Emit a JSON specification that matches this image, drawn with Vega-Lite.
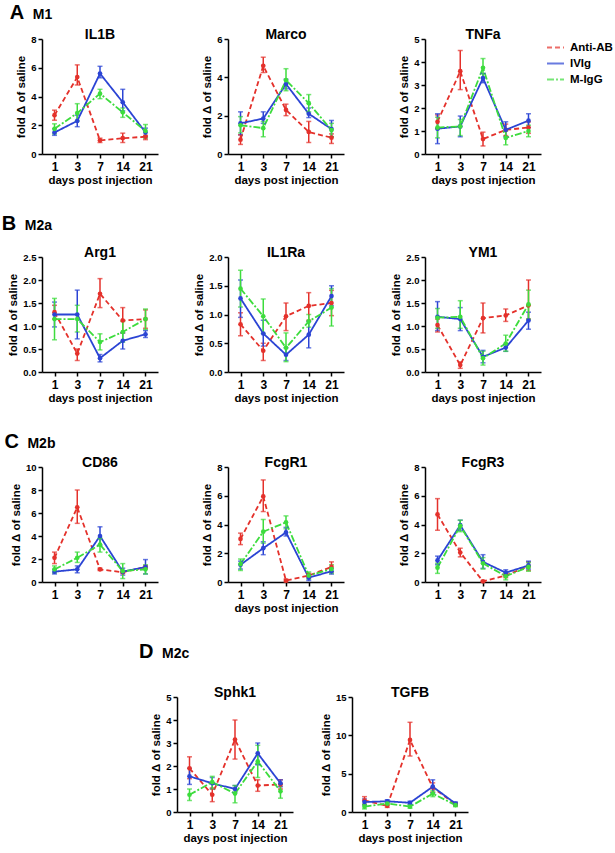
{
"$schema":"https://vega.github.io/schema/vega-lite/v6.json",
"padding":{"left":1,"top":3,"right":2,"bottom":2},
"background":"white",
"datasets":{"d":[
{"g":"IL1B","grp":"Anti-AB","day":1,"m":2.7,"lo":2.35,"hi":3.05},{"g":"IL1B","grp":"Anti-AB","day":3,"m":5.35,"lo":4.8,"hi":6.2},{"g":"IL1B","grp":"Anti-AB","day":7,"m":0.95,"lo":0.8,"hi":1.1},{"g":"IL1B","grp":"Anti-AB","day":14,"m":1.1,"lo":0.8,"hi":1.45},{"g":"IL1B","grp":"Anti-AB","day":21,"m":1.2,"lo":1.0,"hi":1.3},
{"g":"IL1B","grp":"IVIg","day":1,"m":1.5,"lo":1.3,"hi":1.75},{"g":"IL1B","grp":"IVIg","day":3,"m":2.3,"lo":1.9,"hi":2.7},{"g":"IL1B","grp":"IVIg","day":7,"m":5.6,"lo":5.3,"hi":6.1},{"g":"IL1B","grp":"IVIg","day":14,"m":3.6,"lo":3.0,"hi":4.5},{"g":"IL1B","grp":"IVIg","day":21,"m":1.5,"lo":1.2,"hi":1.8},
{"g":"IL1B","grp":"M-IgG","day":1,"m":1.75,"lo":1.4,"hi":2.1},{"g":"IL1B","grp":"M-IgG","day":3,"m":2.85,"lo":2.3,"hi":3.5},{"g":"IL1B","grp":"M-IgG","day":7,"m":4.2,"lo":3.85,"hi":4.5},{"g":"IL1B","grp":"M-IgG","day":14,"m":2.9,"lo":2.55,"hi":3.2},{"g":"IL1B","grp":"M-IgG","day":21,"m":1.6,"lo":1.1,"hi":2.05},
{"g":"Marco","grp":"Anti-AB","day":1,"m":0.75,"lo":0.5,"hi":1.0},{"g":"Marco","grp":"Anti-AB","day":3,"m":4.6,"lo":4.25,"hi":5.05},{"g":"Marco","grp":"Anti-AB","day":7,"m":2.3,"lo":2.0,"hi":2.6},{"g":"Marco","grp":"Anti-AB","day":14,"m":1.15,"lo":0.6,"hi":1.7},{"g":"Marco","grp":"Anti-AB","day":21,"m":0.85,"lo":0.55,"hi":1.05},
{"g":"Marco","grp":"IVIg","day":1,"m":1.6,"lo":1.0,"hi":2.2},{"g":"Marco","grp":"IVIg","day":3,"m":1.85,"lo":1.6,"hi":2.2},{"g":"Marco","grp":"IVIg","day":7,"m":3.65,"lo":3.4,"hi":3.9},{"g":"Marco","grp":"IVIg","day":14,"m":2.1,"lo":1.9,"hi":2.4},{"g":"Marco","grp":"IVIg","day":21,"m":1.3,"lo":0.9,"hi":1.75},
{"g":"Marco","grp":"M-IgG","day":1,"m":1.5,"lo":1.1,"hi":1.95},{"g":"Marco","grp":"M-IgG","day":3,"m":1.35,"lo":0.9,"hi":1.7},{"g":"Marco","grp":"M-IgG","day":7,"m":3.85,"lo":3.3,"hi":4.45},{"g":"Marco","grp":"M-IgG","day":14,"m":2.65,"lo":2.2,"hi":3.1},{"g":"Marco","grp":"M-IgG","day":21,"m":1.25,"lo":0.9,"hi":1.6},
{"g":"TNFa","grp":"Anti-AB","day":1,"m":1.4,"lo":1.1,"hi":1.7},{"g":"TNFa","grp":"Anti-AB","day":3,"m":3.6,"lo":2.8,"hi":4.5},{"g":"TNFa","grp":"Anti-AB","day":7,"m":0.65,"lo":0.35,"hi":0.95},{"g":"TNFa","grp":"Anti-AB","day":14,"m":1.05,"lo":0.8,"hi":1.3},{"g":"TNFa","grp":"Anti-AB","day":21,"m":1.15,"lo":0.9,"hi":1.4},
{"g":"TNFa","grp":"IVIg","day":1,"m":1.1,"lo":0.45,"hi":1.75},{"g":"TNFa","grp":"IVIg","day":3,"m":1.2,"lo":0.75,"hi":1.65},{"g":"TNFa","grp":"IVIg","day":7,"m":3.3,"lo":3.1,"hi":3.5},{"g":"TNFa","grp":"IVIg","day":14,"m":1.05,"lo":0.75,"hi":1.4},{"g":"TNFa","grp":"IVIg","day":21,"m":1.45,"lo":1.15,"hi":1.75},
{"g":"TNFa","grp":"M-IgG","day":1,"m":1.15,"lo":0.7,"hi":1.6},{"g":"TNFa","grp":"M-IgG","day":3,"m":1.2,"lo":0.8,"hi":1.5},{"g":"TNFa","grp":"M-IgG","day":7,"m":3.75,"lo":3.3,"hi":4.15},{"g":"TNFa","grp":"M-IgG","day":14,"m":0.7,"lo":0.4,"hi":1.0},{"g":"TNFa","grp":"M-IgG","day":21,"m":1.0,"lo":0.75,"hi":1.25},
{"g":"Arg1","grp":"Anti-AB","day":1,"m":1.3,"lo":1.15,"hi":1.45},{"g":"Arg1","grp":"Anti-AB","day":3,"m":0.4,"lo":0.25,"hi":0.5},{"g":"Arg1","grp":"Anti-AB","day":7,"m":1.7,"lo":1.4,"hi":2.03},{"g":"Arg1","grp":"Anti-AB","day":14,"m":1.12,"lo":0.85,"hi":1.4},{"g":"Arg1","grp":"Anti-AB","day":21,"m":1.15,"lo":0.95,"hi":1.35},
{"g":"Arg1","grp":"IVIg","day":1,"m":1.25,"lo":0.98,"hi":1.52},{"g":"Arg1","grp":"IVIg","day":3,"m":1.25,"lo":0.72,"hi":1.78},{"g":"Arg1","grp":"IVIg","day":7,"m":0.3,"lo":0.22,"hi":0.38},{"g":"Arg1","grp":"IVIg","day":14,"m":0.68,"lo":0.5,"hi":0.85},{"g":"Arg1","grp":"IVIg","day":21,"m":0.82,"lo":0.75,"hi":0.9},
{"g":"Arg1","grp":"M-IgG","day":1,"m":1.15,"lo":0.7,"hi":1.6},{"g":"Arg1","grp":"M-IgG","day":3,"m":1.15,"lo":0.87,"hi":1.45},{"g":"Arg1","grp":"M-IgG","day":7,"m":0.65,"lo":0.48,"hi":0.83},{"g":"Arg1","grp":"M-IgG","day":14,"m":0.87,"lo":0.65,"hi":1.1},{"g":"Arg1","grp":"M-IgG","day":21,"m":1.15,"lo":0.92,"hi":1.37},
{"g":"IL1Ra","grp":"Anti-AB","day":1,"m":0.83,"lo":0.63,"hi":1.03},{"g":"IL1Ra","grp":"Anti-AB","day":3,"m":0.37,"lo":0.2,"hi":0.5},{"g":"IL1Ra","grp":"Anti-AB","day":7,"m":0.97,"lo":0.72,"hi":1.2},{"g":"IL1Ra","grp":"Anti-AB","day":14,"m":1.15,"lo":0.9,"hi":1.38},{"g":"IL1Ra","grp":"Anti-AB","day":21,"m":1.2,"lo":0.98,"hi":1.42},
{"g":"IL1Ra","grp":"IVIg","day":1,"m":1.28,"lo":0.95,"hi":1.6},{"g":"IL1Ra","grp":"IVIg","day":3,"m":0.67,"lo":0.45,"hi":0.9},{"g":"IL1Ra","grp":"IVIg","day":7,"m":0.3,"lo":0.2,"hi":0.42},{"g":"IL1Ra","grp":"IVIg","day":14,"m":0.65,"lo":0.42,"hi":0.88},{"g":"IL1Ra","grp":"IVIg","day":21,"m":1.32,"lo":1.15,"hi":1.5},
{"g":"IL1Ra","grp":"M-IgG","day":1,"m":1.45,"lo":1.13,"hi":1.77},{"g":"IL1Ra","grp":"M-IgG","day":3,"m":0.97,"lo":0.67,"hi":1.27},{"g":"IL1Ra","grp":"M-IgG","day":7,"m":0.42,"lo":0.18,"hi":0.68},{"g":"IL1Ra","grp":"M-IgG","day":14,"m":0.88,"lo":0.78,"hi":1.0},{"g":"IL1Ra","grp":"M-IgG","day":21,"m":1.12,"lo":0.8,"hi":1.45},
{"g":"YM1","grp":"Anti-AB","day":1,"m":1.02,"lo":0.87,"hi":1.15},{"g":"YM1","grp":"Anti-AB","day":3,"m":0.15,"lo":0.08,"hi":0.22},{"g":"YM1","grp":"Anti-AB","day":7,"m":1.17,"lo":0.85,"hi":1.5},{"g":"YM1","grp":"Anti-AB","day":14,"m":1.23,"lo":1.1,"hi":1.37},{"g":"YM1","grp":"Anti-AB","day":21,"m":1.45,"lo":1.15,"hi":2.0},
{"g":"YM1","grp":"IVIg","day":1,"m":1.2,"lo":0.9,"hi":1.53},{"g":"YM1","grp":"IVIg","day":3,"m":1.15,"lo":0.9,"hi":1.4},{"g":"YM1","grp":"IVIg","day":7,"m":0.33,"lo":0.2,"hi":0.47},{"g":"YM1","grp":"IVIg","day":14,"m":0.53,"lo":0.45,"hi":0.6},{"g":"YM1","grp":"IVIg","day":21,"m":1.12,"lo":0.93,"hi":1.3},
{"g":"YM1","grp":"M-IgG","day":1,"m":1.18,"lo":0.95,"hi":1.38},{"g":"YM1","grp":"M-IgG","day":3,"m":1.2,"lo":0.95,"hi":1.55},{"g":"YM1","grp":"M-IgG","day":7,"m":0.3,"lo":0.15,"hi":0.45},{"g":"YM1","grp":"M-IgG","day":14,"m":0.62,"lo":0.45,"hi":0.8},{"g":"YM1","grp":"M-IgG","day":21,"m":1.47,"lo":1.15,"hi":1.78},
{"g":"CD86","grp":"Anti-AB","day":1,"m":2.1,"lo":1.6,"hi":2.6},{"g":"CD86","grp":"Anti-AB","day":3,"m":6.5,"lo":5.1,"hi":8.0},{"g":"CD86","grp":"Anti-AB","day":7,"m":1.1,"lo":1.0,"hi":1.2},{"g":"CD86","grp":"Anti-AB","day":14,"m":0.85,"lo":0.75,"hi":0.95},{"g":"CD86","grp":"Anti-AB","day":21,"m":1.3,"lo":1.2,"hi":1.4},
{"g":"CD86","grp":"IVIg","day":1,"m":0.9,"lo":0.7,"hi":1.1},{"g":"CD86","grp":"IVIg","day":3,"m":1.1,"lo":0.8,"hi":1.4},{"g":"CD86","grp":"IVIg","day":7,"m":4.0,"lo":3.2,"hi":4.8},{"g":"CD86","grp":"IVIg","day":14,"m":0.9,"lo":0.6,"hi":1.2},{"g":"CD86","grp":"IVIg","day":21,"m":1.3,"lo":0.7,"hi":1.95},
{"g":"CD86","grp":"M-IgG","day":1,"m":1.1,"lo":0.8,"hi":1.4},{"g":"CD86","grp":"M-IgG","day":3,"m":2.1,"lo":1.7,"hi":2.6},{"g":"CD86","grp":"M-IgG","day":7,"m":3.25,"lo":2.6,"hi":3.8},{"g":"CD86","grp":"M-IgG","day":14,"m":0.95,"lo":0.3,"hi":1.6},{"g":"CD86","grp":"M-IgG","day":21,"m":1.1,"lo":0.7,"hi":1.5},
{"g":"FcgR1","grp":"Anti-AB","day":1,"m":3.0,"lo":2.6,"hi":3.4},{"g":"FcgR1","grp":"Anti-AB","day":3,"m":5.95,"lo":4.9,"hi":7.1},{"g":"FcgR1","grp":"Anti-AB","day":7,"m":0.1,"lo":0.0,"hi":0.2},{"g":"FcgR1","grp":"Anti-AB","day":14,"m":0.45,"lo":0.3,"hi":0.6},{"g":"FcgR1","grp":"Anti-AB","day":21,"m":1.05,"lo":0.7,"hi":1.4},
{"g":"FcgR1","grp":"IVIg","day":1,"m":1.2,"lo":0.9,"hi":1.45},{"g":"FcgR1","grp":"IVIg","day":3,"m":2.35,"lo":1.9,"hi":2.8},{"g":"FcgR1","grp":"IVIg","day":7,"m":3.45,"lo":3.2,"hi":3.8},{"g":"FcgR1","grp":"IVIg","day":14,"m":0.3,"lo":0.1,"hi":0.5},{"g":"FcgR1","grp":"IVIg","day":21,"m":0.75,"lo":0.55,"hi":0.95},
{"g":"FcgR1","grp":"M-IgG","day":1,"m":1.25,"lo":0.8,"hi":1.6},{"g":"FcgR1","grp":"M-IgG","day":3,"m":3.5,"lo":2.7,"hi":4.35},{"g":"FcgR1","grp":"M-IgG","day":7,"m":4.15,"lo":3.7,"hi":4.6},{"g":"FcgR1","grp":"M-IgG","day":14,"m":0.45,"lo":0.2,"hi":0.7},{"g":"FcgR1","grp":"M-IgG","day":21,"m":0.9,"lo":0.6,"hi":1.2},
{"g":"FcgR3","grp":"Anti-AB","day":1,"m":4.7,"lo":3.6,"hi":5.8},{"g":"FcgR3","grp":"Anti-AB","day":3,"m":2.05,"lo":1.75,"hi":2.35},{"g":"FcgR3","grp":"Anti-AB","day":7,"m":0.05,"lo":0.0,"hi":0.1},{"g":"FcgR3","grp":"Anti-AB","day":14,"m":0.45,"lo":0.3,"hi":0.6},{"g":"FcgR3","grp":"Anti-AB","day":21,"m":1.1,"lo":0.8,"hi":1.4},
{"g":"FcgR3","grp":"IVIg","day":1,"m":1.5,"lo":1.2,"hi":1.8},{"g":"FcgR3","grp":"IVIg","day":3,"m":3.95,"lo":3.6,"hi":4.3},{"g":"FcgR3","grp":"IVIg","day":7,"m":1.4,"lo":0.95,"hi":1.9},{"g":"FcgR3","grp":"IVIg","day":14,"m":0.65,"lo":0.45,"hi":0.85},{"g":"FcgR3","grp":"IVIg","day":21,"m":1.15,"lo":0.9,"hi":1.45},
{"g":"FcgR3","grp":"M-IgG","day":1,"m":1.0,"lo":0.6,"hi":1.3},{"g":"FcgR3","grp":"M-IgG","day":3,"m":3.9,"lo":3.5,"hi":4.3},{"g":"FcgR3","grp":"M-IgG","day":7,"m":1.3,"lo":0.9,"hi":1.7},{"g":"FcgR3","grp":"M-IgG","day":14,"m":0.4,"lo":0.15,"hi":0.65},{"g":"FcgR3","grp":"M-IgG","day":21,"m":1.05,"lo":0.75,"hi":1.35},
{"g":"Sphk1","grp":"Anti-AB","day":1,"m":1.9,"lo":1.45,"hi":2.4},{"g":"Sphk1","grp":"Anti-AB","day":3,"m":0.75,"lo":0.45,"hi":1.05},{"g":"Sphk1","grp":"Anti-AB","day":7,"m":3.15,"lo":2.3,"hi":4.0},{"g":"Sphk1","grp":"Anti-AB","day":14,"m":1.15,"lo":0.9,"hi":1.4},{"g":"Sphk1","grp":"Anti-AB","day":21,"m":1.2,"lo":1.0,"hi":1.4},
{"g":"Sphk1","grp":"IVIg","day":1,"m":1.55,"lo":1.2,"hi":1.9},{"g":"Sphk1","grp":"IVIg","day":3,"m":1.25,"lo":1.0,"hi":1.5},{"g":"Sphk1","grp":"IVIg","day":7,"m":1.0,"lo":0.85,"hi":1.15},{"g":"Sphk1","grp":"IVIg","day":14,"m":2.55,"lo":2.05,"hi":3.0},{"g":"Sphk1","grp":"IVIg","day":21,"m":1.25,"lo":1.1,"hi":1.4},
{"g":"Sphk1","grp":"M-IgG","day":1,"m":0.75,"lo":0.5,"hi":1.0},{"g":"Sphk1","grp":"M-IgG","day":3,"m":1.3,"lo":1.0,"hi":1.55},{"g":"Sphk1","grp":"M-IgG","day":7,"m":0.8,"lo":0.4,"hi":1.15},{"g":"Sphk1","grp":"M-IgG","day":14,"m":2.2,"lo":1.5,"hi":2.9},{"g":"Sphk1","grp":"M-IgG","day":21,"m":0.9,"lo":0.6,"hi":1.2},
{"g":"TGFB","grp":"Anti-AB","day":1,"m":1.5,"lo":1.0,"hi":2.0},{"g":"TGFB","grp":"Anti-AB","day":3,"m":0.8,"lo":0.6,"hi":1.0},{"g":"TGFB","grp":"Anti-AB","day":7,"m":9.4,"lo":7.3,"hi":11.7},{"g":"TGFB","grp":"Anti-AB","day":14,"m":3.2,"lo":2.6,"hi":3.8},{"g":"TGFB","grp":"Anti-AB","day":21,"m":1.0,"lo":0.8,"hi":1.2},
{"g":"TGFB","grp":"IVIg","day":1,"m":1.3,"lo":0.9,"hi":1.7},{"g":"TGFB","grp":"IVIg","day":3,"m":1.4,"lo":1.2,"hi":1.6},{"g":"TGFB","grp":"IVIg","day":7,"m":1.2,"lo":1.0,"hi":1.4},{"g":"TGFB","grp":"IVIg","day":14,"m":3.3,"lo":2.5,"hi":4.2},{"g":"TGFB","grp":"IVIg","day":21,"m":1.1,"lo":0.9,"hi":1.3},
{"g":"TGFB","grp":"M-IgG","day":1,"m":0.7,"lo":0.4,"hi":1.0},{"g":"TGFB","grp":"M-IgG","day":3,"m":1.1,"lo":0.9,"hi":1.3},{"g":"TGFB","grp":"M-IgG","day":7,"m":0.7,"lo":0.5,"hi":0.9},{"g":"TGFB","grp":"M-IgG","day":14,"m":2.4,"lo":2.0,"hi":2.8},{"g":"TGFB","grp":"M-IgG","day":21,"m":0.9,"lo":0.7,"hi":1.1}
]},
"data":{"name":"d"},
"spacing":28,
"vconcat":[
{"title":{"text":"A","anchor":"start","fontSize":20,"offset":0,"dy":15,"dx":-6},"vconcat":[
{"title":{"text":"M1","anchor":"start","fontSize":14,"offset":6,"dx":17},"bounds":"flush","spacing":70,"hconcat":[
 {"title":"IL1B","width":116,"height":115,"transform":[{"filter":"datum.g==='IL1B'"}],
  "encoding":{"x":{"field":"day","type":"ordinal","sort":[1,3,7,14,21],"scale":{"type":"point","padding":0.55},"axis":{"title":"days post injection"}},
   "y":{"field":"m","type":"quantitative","scale":{"domain":[0,8],"nice":false},"axis":{"values":[0,2,4,6,8],"title":"fold Δ of saline"}},
   "color":{"field":"grp","type":"nominal","title":null,"scale":{"domain":["Anti-AB","IVIg","M-IgG"],"range":["#e4312b","#2b44d4","#3ddc3d"]}}},
  "layer":[
   {"mark":{"type":"line","strokeWidth":1.8},"encoding":{"strokeDash":{"field":"grp","type":"nominal","title":null,"scale":{"domain":["Anti-AB","IVIg","M-IgG"],"range":[[5,3],[1,0],[7,2,2,2]]}}}},
   {"mark":{"type":"errorbar","ticks":true,"size":5,"thickness":1.5},"encoding":{"y":{"field":"lo","type":"quantitative","scale":{"domain":[0,8],"nice":false},"title":"fold Δ of saline"},"y2":{"field":"hi"}}},
   {"mark":{"type":"point","filled":true,"size":22,"opacity":1}}]},
 {"bounds":"flush","spacing":81,"hconcat":[
 {"title":"Marco","width":116,"height":115,"transform":[{"filter":"datum.g==='Marco'"}],
  "encoding":{"x":{"field":"day","type":"ordinal","sort":[1,3,7,14,21],"scale":{"type":"point","padding":0.55},"axis":{"title":"days post injection"}},
   "y":{"field":"m","type":"quantitative","scale":{"domain":[0,6],"nice":false},"axis":{"values":[0,2,4,6],"title":"fold Δ of saline"}},
   "color":{"field":"grp","type":"nominal","title":null,"scale":{"domain":["Anti-AB","IVIg","M-IgG"],"range":["#e4312b","#2b44d4","#3ddc3d"]}}},
  "layer":[
   {"mark":{"type":"line","strokeWidth":1.8},"encoding":{"strokeDash":{"field":"grp","type":"nominal","title":null,"scale":{"domain":["Anti-AB","IVIg","M-IgG"],"range":[[5,3],[1,0],[7,2,2,2]]}}}},
   {"mark":{"type":"errorbar","ticks":true,"size":5,"thickness":1.5},"encoding":{"y":{"field":"lo","type":"quantitative","scale":{"domain":[0,6],"nice":false},"title":"fold Δ of saline"},"y2":{"field":"hi"}}},
   {"mark":{"type":"point","filled":true,"size":22,"opacity":1}}]},
 {"title":"TNFa","width":116,"height":115,"transform":[{"filter":"datum.g==='TNFa'"}],
  "encoding":{"x":{"field":"day","type":"ordinal","sort":[1,3,7,14,21],"scale":{"type":"point","padding":0.55},"axis":{"title":"days post injection"}},
   "y":{"field":"m","type":"quantitative","scale":{"domain":[0,5],"nice":false},"axis":{"values":[0,1,2,3,4,5],"title":"fold Δ of saline"}},
   "color":{"field":"grp","type":"nominal","title":null,"scale":{"domain":["Anti-AB","IVIg","M-IgG"],"range":["#e4312b","#2b44d4","#3ddc3d"]}}},
  "layer":[
   {"mark":{"type":"line","strokeWidth":1.8},"encoding":{"strokeDash":{"field":"grp","type":"nominal","title":null,"scale":{"domain":["Anti-AB","IVIg","M-IgG"],"range":[[5,3],[1,0],[7,2,2,2]]}}}},
   {"mark":{"type":"errorbar","ticks":true,"size":5,"thickness":1.5},"encoding":{"y":{"field":"lo","type":"quantitative","scale":{"domain":[0,5],"nice":false},"title":"fold Δ of saline"},"y2":{"field":"hi"}}},
   {"mark":{"type":"point","filled":true,"size":22,"opacity":1}}]}
 ]}
]}]},
{"title":{"text":"B","anchor":"start","fontSize":20,"offset":0,"dy":15,"dx":-6},"vconcat":[
{"title":{"text":"M2a","anchor":"start","fontSize":14,"offset":13,"dx":17},"bounds":"flush","spacing":70,"hconcat":[
 {"title":"Arg1","width":116,"height":115,"transform":[{"filter":"datum.g==='Arg1'"}],
  "encoding":{"x":{"field":"day","type":"ordinal","sort":[1,3,7,14,21],"scale":{"type":"point","padding":0.55},"axis":{"title":"days post injection"}},
   "y":{"field":"m","type":"quantitative","scale":{"domain":[0,2.5],"nice":false},"axis":{"values":[0,0.5,1,1.5,2,2.5],"format":".1f","title":"fold Δ of saline"}},
   "color":{"field":"grp","type":"nominal","title":null,"scale":{"domain":["Anti-AB","IVIg","M-IgG"],"range":["#e4312b","#2b44d4","#3ddc3d"]}}},
  "layer":[
   {"mark":{"type":"line","strokeWidth":1.8},"encoding":{"strokeDash":{"field":"grp","type":"nominal","title":null,"scale":{"domain":["Anti-AB","IVIg","M-IgG"],"range":[[5,3],[1,0],[7,2,2,2]]}}}},
   {"mark":{"type":"errorbar","ticks":true,"size":5,"thickness":1.5},"encoding":{"y":{"field":"lo","type":"quantitative","scale":{"domain":[0,2.5],"nice":false},"title":"fold Δ of saline"},"y2":{"field":"hi"}}},
   {"mark":{"type":"point","filled":true,"size":22,"opacity":1}}]},
 {"bounds":"flush","spacing":81,"hconcat":[
 {"title":"IL1Ra","width":116,"height":115,"transform":[{"filter":"datum.g==='IL1Ra'"}],
  "encoding":{"x":{"field":"day","type":"ordinal","sort":[1,3,7,14,21],"scale":{"type":"point","padding":0.55},"axis":{"title":"days post injection"}},
   "y":{"field":"m","type":"quantitative","scale":{"domain":[0,2],"nice":false},"axis":{"values":[0,0.5,1,1.5,2],"format":".1f","title":"fold Δ of saline"}},
   "color":{"field":"grp","type":"nominal","title":null,"scale":{"domain":["Anti-AB","IVIg","M-IgG"],"range":["#e4312b","#2b44d4","#3ddc3d"]}}},
  "layer":[
   {"mark":{"type":"line","strokeWidth":1.8},"encoding":{"strokeDash":{"field":"grp","type":"nominal","title":null,"scale":{"domain":["Anti-AB","IVIg","M-IgG"],"range":[[5,3],[1,0],[7,2,2,2]]}}}},
   {"mark":{"type":"errorbar","ticks":true,"size":5,"thickness":1.5},"encoding":{"y":{"field":"lo","type":"quantitative","scale":{"domain":[0,2],"nice":false},"title":"fold Δ of saline"},"y2":{"field":"hi"}}},
   {"mark":{"type":"point","filled":true,"size":22,"opacity":1}}]},
 {"title":"YM1","width":116,"height":115,"transform":[{"filter":"datum.g==='YM1'"}],
  "encoding":{"x":{"field":"day","type":"ordinal","sort":[1,3,7,14,21],"scale":{"type":"point","padding":0.55},"axis":{"title":"days post injection"}},
   "y":{"field":"m","type":"quantitative","scale":{"domain":[0,2.5],"nice":false},"axis":{"values":[0,0.5,1,1.5,2,2.5],"format":".1f","title":"fold Δ of saline"}},
   "color":{"field":"grp","type":"nominal","title":null,"scale":{"domain":["Anti-AB","IVIg","M-IgG"],"range":["#e4312b","#2b44d4","#3ddc3d"]}}},
  "layer":[
   {"mark":{"type":"line","strokeWidth":1.8},"encoding":{"strokeDash":{"field":"grp","type":"nominal","title":null,"scale":{"domain":["Anti-AB","IVIg","M-IgG"],"range":[[5,3],[1,0],[7,2,2,2]]}}}},
   {"mark":{"type":"errorbar","ticks":true,"size":5,"thickness":1.5},"encoding":{"y":{"field":"lo","type":"quantitative","scale":{"domain":[0,2.5],"nice":false},"title":"fold Δ of saline"},"y2":{"field":"hi"}}},
   {"mark":{"type":"point","filled":true,"size":22,"opacity":1}}]}
 ]}
]}]},
{"title":{"text":"C","anchor":"start","fontSize":20,"offset":0,"dy":15,"dx":-6},"vconcat":[
{"title":{"text":"M2b","anchor":"start","fontSize":14,"offset":5,"dx":17},"bounds":"flush","spacing":70,"hconcat":[
 {"title":"CD86","width":116,"height":115,"transform":[{"filter":"datum.g==='CD86'"}],
  "encoding":{"x":{"field":"day","type":"ordinal","sort":[1,3,7,14,21],"scale":{"type":"point","padding":0.55},"axis":{"title":null}},
   "y":{"field":"m","type":"quantitative","scale":{"domain":[0,10],"nice":false},"axis":{"values":[0,2,4,6,8,10],"title":"fold Δ of saline"}},
   "color":{"field":"grp","type":"nominal","title":null,"scale":{"domain":["Anti-AB","IVIg","M-IgG"],"range":["#e4312b","#2b44d4","#3ddc3d"]}}},
  "layer":[
   {"mark":{"type":"line","strokeWidth":1.8},"encoding":{"strokeDash":{"field":"grp","type":"nominal","title":null,"scale":{"domain":["Anti-AB","IVIg","M-IgG"],"range":[[5,3],[1,0],[7,2,2,2]]}}}},
   {"mark":{"type":"errorbar","ticks":true,"size":5,"thickness":1.5},"encoding":{"y":{"field":"lo","type":"quantitative","scale":{"domain":[0,10],"nice":false},"title":"fold Δ of saline"},"y2":{"field":"hi"}}},
   {"mark":{"type":"point","filled":true,"size":22,"opacity":1}}]},
 {"bounds":"flush","spacing":81,"hconcat":[
 {"title":"FcgR1","width":116,"height":115,"transform":[{"filter":"datum.g==='FcgR1'"}],
  "encoding":{"x":{"field":"day","type":"ordinal","sort":[1,3,7,14,21],"scale":{"type":"point","padding":0.55},"axis":{"title":"days post injection"}},
   "y":{"field":"m","type":"quantitative","scale":{"domain":[0,8],"nice":false},"axis":{"values":[0,2,4,6,8],"title":"fold Δ of saline"}},
   "color":{"field":"grp","type":"nominal","title":null,"scale":{"domain":["Anti-AB","IVIg","M-IgG"],"range":["#e4312b","#2b44d4","#3ddc3d"]}}},
  "layer":[
   {"mark":{"type":"line","strokeWidth":1.8},"encoding":{"strokeDash":{"field":"grp","type":"nominal","title":null,"scale":{"domain":["Anti-AB","IVIg","M-IgG"],"range":[[5,3],[1,0],[7,2,2,2]]}}}},
   {"mark":{"type":"errorbar","ticks":true,"size":5,"thickness":1.5},"encoding":{"y":{"field":"lo","type":"quantitative","scale":{"domain":[0,8],"nice":false},"title":"fold Δ of saline"},"y2":{"field":"hi"}}},
   {"mark":{"type":"point","filled":true,"size":22,"opacity":1}}]},
 {"title":"FcgR3","width":116,"height":115,"transform":[{"filter":"datum.g==='FcgR3'"}],
  "encoding":{"x":{"field":"day","type":"ordinal","sort":[1,3,7,14,21],"scale":{"type":"point","padding":0.55},"axis":{"title":null}},
   "y":{"field":"m","type":"quantitative","scale":{"domain":[0,8],"nice":false},"axis":{"values":[0,2,4,6,8],"title":"fold Δ of saline"}},
   "color":{"field":"grp","type":"nominal","title":null,"scale":{"domain":["Anti-AB","IVIg","M-IgG"],"range":["#e4312b","#2b44d4","#3ddc3d"]}}},
  "layer":[
   {"mark":{"type":"line","strokeWidth":1.8},"encoding":{"strokeDash":{"field":"grp","type":"nominal","title":null,"scale":{"domain":["Anti-AB","IVIg","M-IgG"],"range":[[5,3],[1,0],[7,2,2,2]]}}}},
   {"mark":{"type":"errorbar","ticks":true,"size":5,"thickness":1.5},"encoding":{"y":{"field":"lo","type":"quantitative","scale":{"domain":[0,8],"nice":false},"title":"fold Δ of saline"},"y2":{"field":"hi"}}},
   {"mark":{"type":"point","filled":true,"size":22,"opacity":1}}]}
 ]}
]}]},
{"title":{"text":"D","anchor":"start","fontSize":20,"offset":0,"dy":15,"dx":97},"vconcat":[
{"title":{"text":"M2c","anchor":"start","fontSize":14,"offset":25,"dx":120},"bounds":"flush","spacing":59,"hconcat":[
 {"width":76,"height":10,"data":{"values":[]},"mark":"point"},
 {"title":"Sphk1","width":116,"height":115,"transform":[{"filter":"datum.g==='Sphk1'"}],
  "encoding":{"x":{"field":"day","type":"ordinal","sort":[1,3,7,14,21],"scale":{"type":"point","padding":0.55},"axis":{"title":"days post injection"}},
   "y":{"field":"m","type":"quantitative","scale":{"domain":[0,5],"nice":false},"axis":{"values":[0,1,2,3,4,5],"title":"fold Δ of saline"}},
   "color":{"field":"grp","type":"nominal","title":null,"scale":{"domain":["Anti-AB","IVIg","M-IgG"],"range":["#e4312b","#2b44d4","#3ddc3d"]}}},
  "layer":[
   {"mark":{"type":"line","strokeWidth":1.8},"encoding":{"strokeDash":{"field":"grp","type":"nominal","title":null,"scale":{"domain":["Anti-AB","IVIg","M-IgG"],"range":[[5,3],[1,0],[7,2,2,2]]}}}},
   {"mark":{"type":"errorbar","ticks":true,"size":5,"thickness":1.5},"encoding":{"y":{"field":"lo","type":"quantitative","scale":{"domain":[0,5],"nice":false},"title":"fold Δ of saline"},"y2":{"field":"hi"}}},
   {"mark":{"type":"point","filled":true,"size":22,"opacity":1}}]},
 {"title":"TGFB","width":116,"height":115,"transform":[{"filter":"datum.g==='TGFB'"}],
  "encoding":{"x":{"field":"day","type":"ordinal","sort":[1,3,7,14,21],"scale":{"type":"point","padding":0.55},"axis":{"title":"days post injection"}},
   "y":{"field":"m","type":"quantitative","scale":{"domain":[0,15],"nice":false},"axis":{"values":[0,5,10,15],"title":"fold Δ of saline"}},
   "color":{"field":"grp","type":"nominal","title":null,"scale":{"domain":["Anti-AB","IVIg","M-IgG"],"range":["#e4312b","#2b44d4","#3ddc3d"]}}},
  "layer":[
   {"mark":{"type":"line","strokeWidth":1.8},"encoding":{"strokeDash":{"field":"grp","type":"nominal","title":null,"scale":{"domain":["Anti-AB","IVIg","M-IgG"],"range":[[5,3],[1,0],[7,2,2,2]]}}}},
   {"mark":{"type":"errorbar","ticks":true,"size":5,"thickness":1.5},"encoding":{"y":{"field":"lo","type":"quantitative","scale":{"domain":[0,15],"nice":false},"title":"fold Δ of saline"},"y2":{"field":"hi"}}},
   {"mark":{"type":"point","filled":true,"size":22,"opacity":1}}]}
]}]}
],
"config":{
 "font":"Liberation Sans",
 "view":{"stroke":null},
 "axis":{"grid":false,"domainColor":"black","domainWidth":1.5,"tickColor":"black","tickWidth":1.5,"tickSize":4,"labelColor":"black","labelFontWeight":"bold","titleColor":"black","titleFontWeight":"bold","titleFontSize":11.5},
 "axisX":{"labelFontSize":12,"labelAngle":0,"titlePadding":2,"labelPadding":3},
 "axisY":{"labelFontSize":9.5,"labelPadding":2,"titlePadding":4},
 "title":{"fontSize":14,"fontWeight":"bold","color":"black","offset":-8,"anchor":"middle"},
 "legend":{"orient":"none","legendX":504,"legendY":-1,"symbolType":"stroke","symbolSize":289,"symbolStrokeWidth":2,"labelFontSize":11.5,"labelFontWeight":"bold","labelColor":"black","labelOffset":5,"rowPadding":1}
}
}
